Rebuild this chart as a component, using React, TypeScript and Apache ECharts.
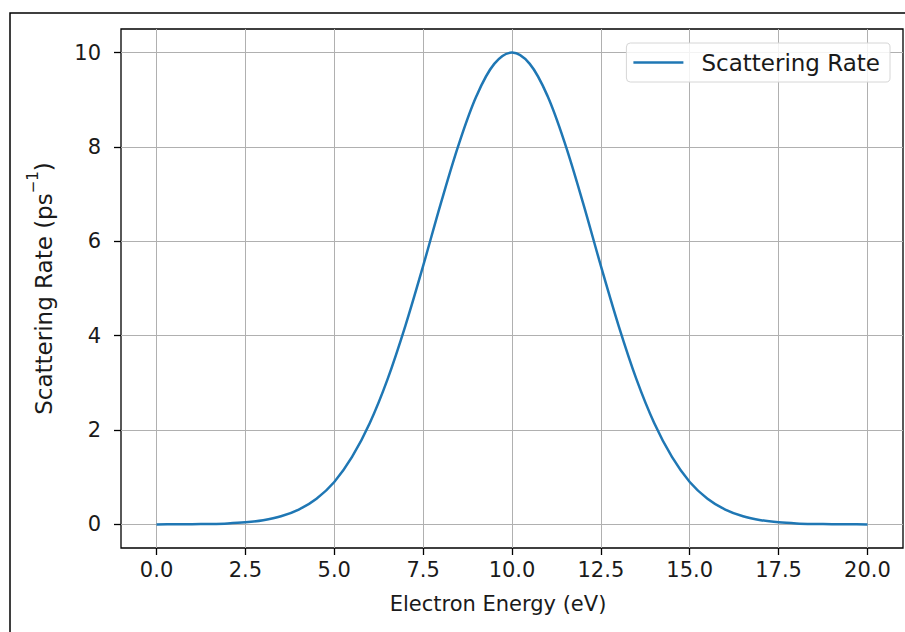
import React, { useEffect, useRef } from "react";
import * as echarts from "echarts";

const energies = [
  0, 0.5, 1, 1.5, 2, 2.5, 3, 3.5, 4, 4.5, 5, 5.5, 6, 6.5, 7, 7.5, 8, 8.5, 9, 9.5, 10,
  10.5, 11, 11.5, 12, 12.5, 13, 13.5, 14, 14.5, 15, 15.5, 16, 16.5, 17, 17.5, 18, 18.5, 19, 19.5, 20,
];
const rates = [
  0.0007, 0.0017, 0.0041, 0.0096, 0.021, 0.045, 0.09, 0.172, 0.314, 0.545, 0.9, 1.43, 2.15, 3.08, 4.21, 5.48,
  6.81, 8.05, 9.08, 9.76, 10, 9.76, 9.08, 8.05, 6.81, 5.48, 4.21, 3.08, 2.15, 1.43, 0.9, 0.545, 0.314, 0.172,
  0.09, 0.045, 0.021, 0.0096, 0.0041, 0.0017, 0.0007,
];
const xTicks = [0, 2.5, 5, 7.5, 10, 12.5, 15, 17.5, 20];
const yTicks = [0, 2, 4, 6, 8, 10];

const FONT = "DejaVu Sans";
const TEXT = "#1a1a1a";

export default function App() {
  const ref = useRef<HTMLDivElement>(null);
  useEffect(() => {
    const chart = echarts.init(ref.current!, null, { renderer: "svg" });
    chart.setOption({
      animation: false,
      backgroundColor: "#fff",
      graphic: [
        {
          type: "rect",
          shape: { x: 10, y: 13, width: 1000, height: 1000 },
          style: { fill: "none", stroke: "#000", lineWidth: 1.5 },
          silent: true,
        },
      ],
      grid: {
        left: 121,
        top: 29,
        right: 2,
        bottom: 84,
        show: true,
        borderColor: "#000",
        borderWidth: 1.3,
        backgroundColor: "transparent",
      },
      legend: {
        show: true,
        right: 15,
        top: 43,
        orient: "horizontal",
        backgroundColor: "rgba(255,255,255,0.85)",
        borderColor: "#d6d6d6",
        borderWidth: 1,
        borderRadius: 4,
        padding: [8, 10, 8, 7],
        icon: "rect",
        itemWidth: 50,
        itemHeight: 2.5,
        textStyle: { fontFamily: FONT, fontSize: 23, color: TEXT, padding: [0, 0, 0, 13] },
        data: ["Scattering Rate"],
      },
      xAxis: {
        type: "value",
        min: -1,
        max: 21,
        name: "Electron Energy (eV)",
        nameLocation: "middle",
        nameGap: 45,
        nameTextStyle: { fontFamily: FONT, fontSize: 21, color: TEXT, padding: [0, 28, 0, 0] },
        axisLine: { show: false, onZero: false },
        axisTick: { show: true, length: 7, lineStyle: { color: "#000", width: 1.3 }, customValues: xTicks },
        axisLabel: {
          fontFamily: FONT,
          fontSize: 21,
          color: TEXT,
          margin: 11,
          customValues: xTicks,
          formatter: (v: number) => v.toFixed(1),
        },
        splitLine: { show: true, lineStyle: { color: "#b0b0b0", width: 1 } },
      },
      yAxis: {
        type: "value",
        min: -0.5,
        max: 10.5,
        name: "{a|Scattering Rate (ps}{s|−1}{a|)}",
        nameLocation: "middle",
        nameGap: 66,
        nameTextStyle: {
          fontFamily: FONT,
          fontSize: 23,
          color: TEXT,
          rich: {
            a: { fontFamily: FONT, fontSize: 23, color: TEXT, lineHeight: 30, verticalAlign: "bottom" },
            s: { fontFamily: FONT, fontSize: 15, color: TEXT, lineHeight: 30, verticalAlign: "top" },
          },
        },
        axisLine: { show: false, onZero: false },
        axisTick: { show: true, length: 7, lineStyle: { color: "#000", width: 1.3 }, customValues: yTicks },
        axisLabel: {
          fontFamily: FONT,
          fontSize: 21,
          color: TEXT,
          margin: 20,
          customValues: yTicks,
          formatter: (v: number) => String(v),
        },
        splitLine: { show: true, lineStyle: { color: "#b0b0b0", width: 1 } },
      },
      series: [
        {
          name: "Scattering Rate",
          type: "line",
          data: energies.map((e, i) => [e, rates[i]]),
          showSymbol: false,
          symbol: "none",
          smooth: 0.35,
          lineStyle: { color: "#1f77b4", width: 2.5 },
          itemStyle: { color: "#1f77b4" },
        },
      ],
    });
    return () => chart.dispose();
  }, []);
  return (
    <div
      ref={ref}
      style={{ position: "fixed", left: 0, top: 0, width: 905, height: 632, background: "#fff" }}
    />
  );
}
